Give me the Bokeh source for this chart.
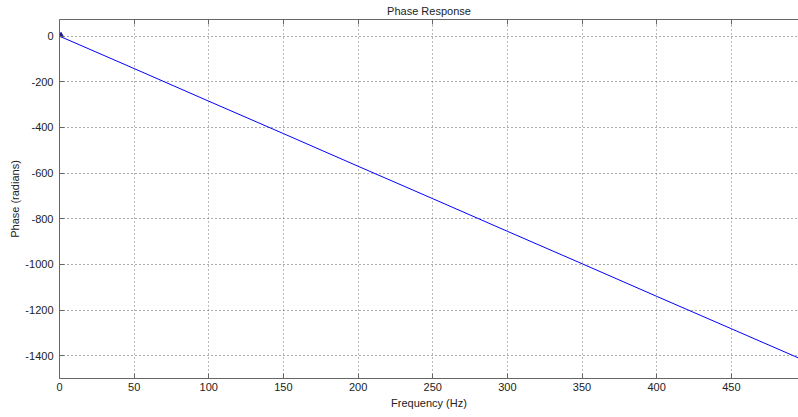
from bokeh.plotting import figure
from bokeh.models import LinearAxis, FixedTicker, Range1d
from bokeh.embed import file_html
from bokeh.resources import INLINE

# Data
freq_hz = [0, 50, 100, 150, 200, 250, 300, 350, 400, 450, 495]
phase_rad = [0, -142, -285, -427, -570, -712, -855, -997, -1140, -1282, -1410]
start_freq = [1]
start_phase = [4]

x_ticks = [0, 50, 100, 150, 200, 250, 300, 350, 400, 450]
y_ticks = [0, -200, -400, -600, -800, -1000, -1200, -1400]
y_tick_labels = ["0", "-200", "-400", "-600", "-800", "-1000", "-1200", "-1400"]

FONT = "Liberation Sans"
AXIS_COLOR = "#666666"
TEXT_COLOR = "#222222"

p = figure(width=798, height=417, output_backend="svg", toolbar_location=None,
           x_range=Range1d(0, 495), y_range=Range1d(-1500, 73),
           min_border_left=59, min_border_right=0, min_border_top=19,
           min_border_bottom=39, background_fill_color="white",
           border_fill_color="white")
p.outline_line_color = None

p.title.text = "Phase Response"
p.title.align = "center"
p.title.text_font = FONT
p.title.text_font_size = "11px"
p.title.text_font_style = "normal"
p.title.text_color = TEXT_COLOR
p.title.standoff = 5
p.title.offset = 0

# bottom / left axes
for ax in (p.xaxis[0], p.yaxis[0]):
    ax.axis_line_color = AXIS_COLOR
    ax.major_tick_line_color = AXIS_COLOR
    ax.major_tick_in = 5
    ax.major_tick_out = 0
    ax.minor_tick_line_color = None
    ax.major_label_text_font = FONT
    ax.major_label_text_font_size = "11px"
    ax.major_label_text_color = TEXT_COLOR
    ax.axis_label_text_font = FONT
    ax.axis_label_text_font_size = "11px"
    ax.axis_label_text_font_style = "normal"
    ax.axis_label_text_color = TEXT_COLOR

p.xaxis[0].ticker = FixedTicker(ticks=x_ticks)
p.yaxis[0].ticker = FixedTicker(ticks=y_ticks)
p.yaxis[0].major_label_overrides = dict(zip(y_ticks, y_tick_labels))
p.xaxis[0].axis_label = "Frequency (Hz)"
p.yaxis[0].axis_label = "Phase (radians)"
p.xaxis[0].major_label_standoff = 4
p.xaxis[0].axis_label_standoff = 3
p.yaxis[0].major_label_standoff = 6
p.yaxis[0].axis_label_standoff = 1

# top axis (box edge with inward ticks, no labels)
top = LinearAxis(ticker=FixedTicker(ticks=x_ticks))
top.axis_line_color = AXIS_COLOR
top.major_tick_line_color = AXIS_COLOR
top.major_tick_in = 5
top.major_tick_out = 0
top.minor_tick_line_color = None
top.major_label_overrides = {t: "" for t in x_ticks}
top.major_label_standoff = 0
p.add_layout(top, "above")

p.xgrid.ticker = FixedTicker(ticks=x_ticks)
p.ygrid.ticker = FixedTicker(ticks=y_ticks)
p.xgrid.grid_line_color = "#777777"
p.ygrid.grid_line_color = "#555555"
p.xgrid.grid_line_dash = "1 3"
p.ygrid.grid_line_dash = "1 3"
p.xgrid.grid_line_width = 1
p.ygrid.grid_line_width = 1

p.line(freq_hz, phase_rad, line_color="#0000ff", line_width=1)
p.scatter(start_freq, start_phase, marker="triangle", size=5,
          fill_color="#1a1a8c", line_color="#1a1a8c")

open("out.html", "w").write(file_html(p, INLINE))
